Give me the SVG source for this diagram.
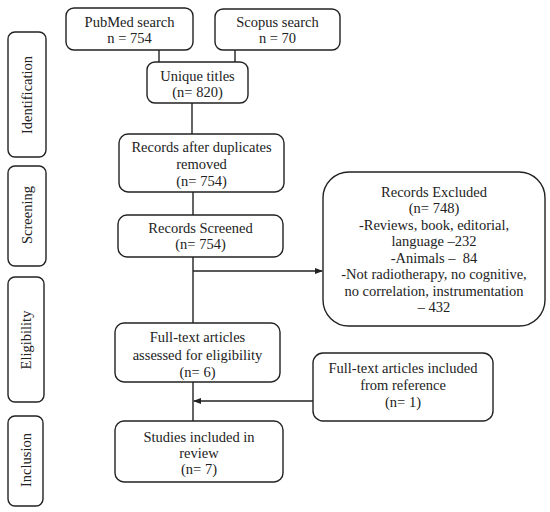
<svg xmlns="http://www.w3.org/2000/svg" width="550" height="512" viewBox="0 0 550 512">
<defs>
<style>
.b{fill:#fff;stroke:#222;stroke-width:1.4}
.t{font-family:'Liberation Serif','Times New Roman','DejaVu Serif',serif;font-size:14.5px;fill:#222;text-anchor:middle}
.c{stroke:#222;stroke-width:1.4;fill:none}
</style>
<marker id="ah" markerWidth="8" markerHeight="8" refX="7" refY="4" orient="auto" markerUnits="userSpaceOnUse">
<path d="M0,1 L8,4 L0,7 Z" fill="#222"/>
</marker>
</defs>
<rect width="550" height="512" fill="#fff"/>
<g id="connectors">
<line class="c" x1="159" y1="50" x2="159" y2="62"/>
<line class="c" x1="235" y1="50" x2="235" y2="62"/>
<line class="c" x1="192" y1="103" x2="192" y2="134"/>
<line class="c" x1="193" y1="192" x2="193" y2="215"/>
<line class="c" x1="193" y1="257" x2="193" y2="323"/>
<line class="c" x1="193" y1="271" x2="322" y2="271" marker-end="url(#ah)"/>
<line class="c" x1="193" y1="382" x2="193" y2="421"/>
<line class="c" x1="313" y1="401" x2="194" y2="401" marker-end="url(#ah)"/>
</g>
<g id="side-identification">
<rect class="b" x="8" y="32" width="38" height="125" rx="7"/>
<text class="t" font-family="Liberation Serif, serif" transform="translate(32,95) rotate(-90)">Identification</text>
</g>
<g id="side-screening">
<rect class="b" x="8" y="166" width="38" height="100" rx="7"/>
<text class="t" font-family="Liberation Serif, serif" transform="translate(32,215) rotate(-90)">Screening</text>
</g>
<g id="side-eligibility">
<rect class="b" x="8" y="277" width="36" height="125" rx="7"/>
<text class="t" font-family="Liberation Serif, serif" transform="translate(31,340) rotate(-90)">Eligibility</text>
</g>
<g id="side-inclusion">
<rect class="b" x="8" y="416" width="35" height="90" rx="7"/>
<text class="t" font-family="Liberation Serif, serif" transform="translate(31,460) rotate(-90)">Inclusion</text>
</g>
<g id="pubmed">
<rect class="b" x="66" y="8" width="127" height="42" rx="8"/>
<text class="t" x="129.5" y="27">PubMed search</text>
<text class="t" x="129.5" y="43">n = 754</text>
</g>
<g id="scopus">
<rect class="b" x="215" y="9" width="125" height="41" rx="8"/>
<text class="t" x="277.5" y="27">Scopus search</text>
<text class="t" x="277.5" y="43">n = 70</text>
</g>
<g id="unique">
<rect class="b" x="147" y="62" width="101" height="41" rx="8"/>
<text class="t" x="197.5" y="81">Unique titles</text>
<text class="t" x="197.5" y="97">(n= 820)</text>
</g>
<g id="after-duplicates">
<rect class="b" x="119" y="134" width="165" height="58" rx="9"/>
<text class="t" x="201.5" y="152">Records after duplicates</text>
<text class="t" x="201.5" y="169">removed</text>
<text class="t" x="201.5" y="186">(n= 754)</text>
</g>
<g id="screened">
<rect class="b" x="118" y="215" width="165" height="42" rx="9"/>
<text class="t" x="200.5" y="233">Records Screened</text>
<text class="t" x="200.5" y="249">(n= 754)</text>
</g>
<g id="excluded">
<rect class="b" x="323" y="172" width="222" height="154" rx="26"/>
<text class="t" x="434" y="197">Records Excluded</text>
<text class="t" x="434" y="213">(n= 748)</text>
<text class="t" x="434" y="229.5">-Reviews, book, editorial,</text>
<text class="t" x="434" y="246">language –232</text>
<text class="t" x="434" y="262.5">-Animals – &#160;84</text>
<text class="t" x="434" y="279">-Not radiotherapy, no cognitive,</text>
<text class="t" x="434" y="295.5">no correlation, instrumentation</text>
<text class="t" x="434" y="312">– 432</text>
</g>
<g id="fulltext-assessed">
<rect class="b" x="115" y="323" width="165" height="59" rx="9"/>
<text class="t" x="197.5" y="342">Full-text articles</text>
<text class="t" x="197.5" y="360">assessed for eligibility</text>
<text class="t" x="197.5" y="377">(n= 6)</text>
</g>
<g id="fulltext-included">
<rect class="b" x="313" y="353" width="180" height="68" rx="10"/>
<text class="t" x="403" y="373">Full-text articles included</text>
<text class="t" x="403" y="390">from reference</text>
<text class="t" x="403" y="407">(n= 1)</text>
</g>
<g id="studies">
<rect class="b" x="115" y="421" width="168" height="61" rx="9"/>
<text class="t" x="199" y="442">Studies included in</text>
<text class="t" x="199" y="458">review</text>
<text class="t" x="199" y="474">(n= 7)</text>
</g>
</svg>
